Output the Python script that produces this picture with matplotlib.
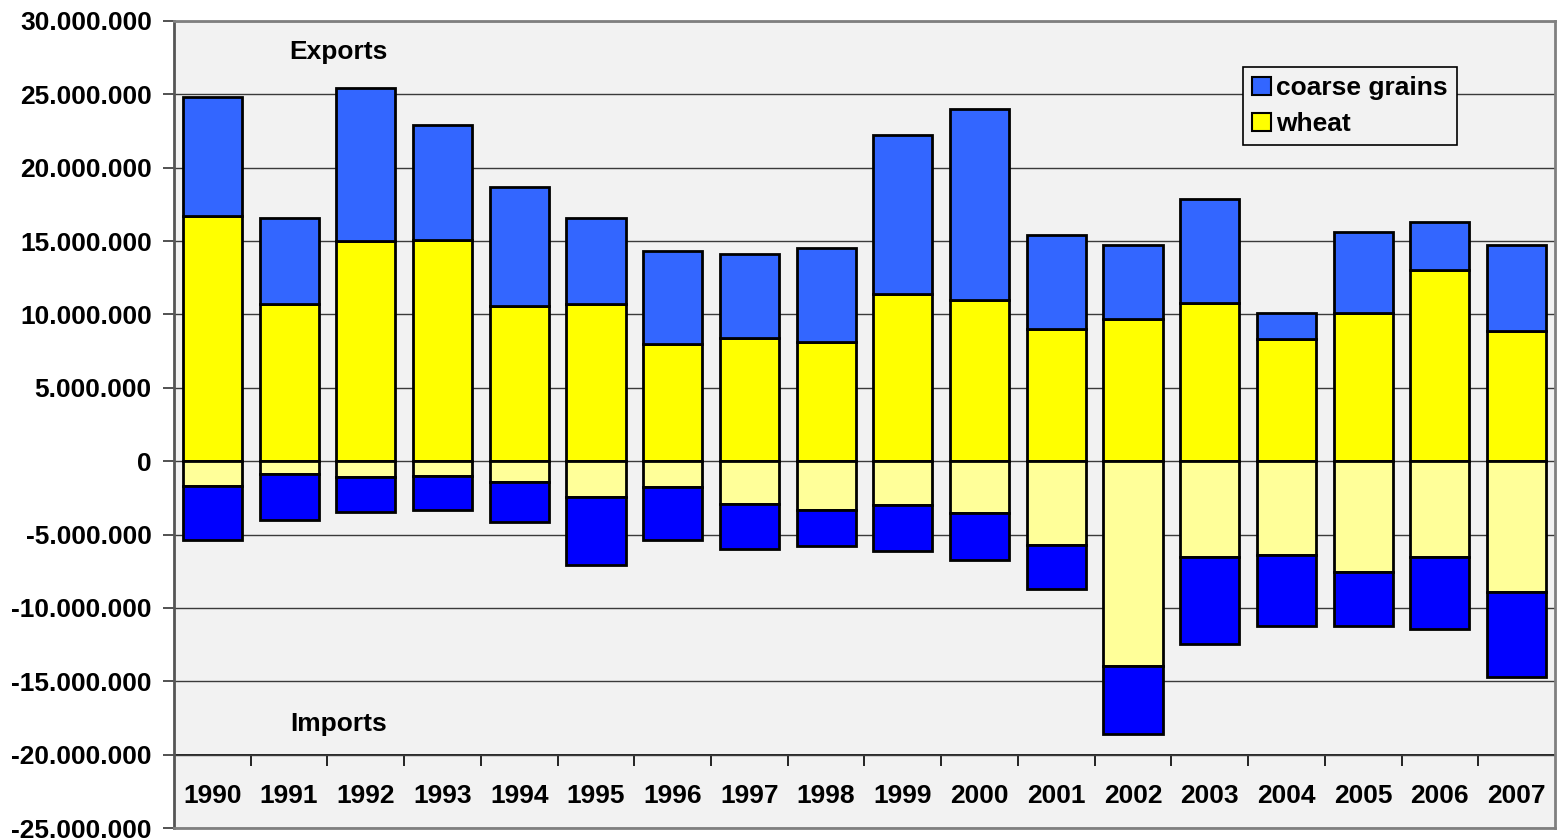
import numpy as np
import matplotlib
matplotlib.use("Agg")
import matplotlib.pyplot as plt
from matplotlib.patches import Patch
from matplotlib.ticker import FuncFormatter, MultipleLocator

plt.rcParams['font.family'] = ['Liberation Sans', 'DejaVu Sans']
plt.rcParams['font.weight'] = 'bold'

years = ['1990', '1991', '1992', '1993', '1994', '1995', '1996', '1997', '1998',
         '1999', '2000', '2001', '2002', '2003', '2004', '2005', '2006', '2007']

# Exports (tonnes)
export_wheat = [16.7e6, 10.7e6, 15.0e6, 15.1e6, 10.6e6, 10.7e6, 8.0e6, 8.4e6, 8.1e6,
                11.4e6, 11.0e6, 9.0e6, 9.7e6, 10.8e6, 8.3e6, 10.1e6, 13.0e6, 8.9e6]
export_coarse = [8.1e6, 5.9e6, 10.4e6, 7.8e6, 8.1e6, 5.9e6, 6.3e6, 5.7e6, 6.4e6,
                 10.8e6, 13.0e6, 6.4e6, 5.0e6, 7.1e6, 1.8e6, 5.5e6, 3.3e6, 5.8e6]
# Imports (tonnes, negative)
import_wheat = [-1.70e6, -0.90e6, -1.10e6, -1.00e6, -1.43e6, -2.45e6, -1.77e6, -2.93e6, -3.36e6,
                -2.98e6, -3.52e6, -5.73e6, -13.93e6, -6.52e6, -6.41e6, -7.52e6, -6.50e6, -8.89e6]
import_coarse = [-3.67e6, -3.10e6, -2.38e6, -2.35e6, -2.72e6, -4.65e6, -3.63e6, -3.07e6, -2.41e6,
                 -3.16e6, -3.23e6, -2.95e6, -4.67e6, -5.91e6, -4.79e6, -3.68e6, -4.95e6, -5.81e6]

series_labels = ['coarse grains', 'wheat']

C_EXP_COARSE = '#3366FF'
C_EXP_WHEAT = '#FFFF00'
C_IMP_WHEAT = '#FFFF99'
C_IMP_COARSE = '#0000FF'
BG = '#F2F2F2'
FS = 19

fig = plt.figure(figsize=(15.59, 8.39), dpi=100)
fig.patch.set_facecolor('white')
ax = fig.add_axes([174/1559, 1 - 828/839, (1555 - 174)/1559, (828 - 21)/839])
ax.set_facecolor(BG)

x = np.arange(len(years))
w = 0.77
ekw = dict(edgecolor='black', linewidth=2.0, zorder=3)
ax.bar(x, export_wheat, w, color=C_EXP_WHEAT, **ekw)
ax.bar(x, export_coarse, w, bottom=export_wheat, color=C_EXP_COARSE, **ekw)
ax.bar(x, import_wheat, w, color=C_IMP_WHEAT, **ekw)
ax.bar(x, import_coarse, w, bottom=import_wheat, color=C_IMP_COARSE, **ekw)

ax.set_xlim(-0.5, len(years) - 0.5)
ax.set_ylim(-25e6, 30e6)
ax.yaxis.set_major_locator(MultipleLocator(5e6))
ax.yaxis.set_major_formatter(FuncFormatter(lambda v, p: f"{int(round(v)):,}".replace(',', '.')))
ax.grid(axis='y', color='#3a3a3a', linewidth=1.0, zorder=1)
ax.set_axisbelow(True)
ax.tick_params(axis='y', direction='out', length=8, width=1.2, color='#333333',
               labelsize=FS, pad=8)
for lab in ax.get_yticklabels():
    lab.set_fontweight('bold')
ax.tick_params(axis='x', bottom=False, labelbottom=False)

for s in ['top', 'right', 'bottom']:
    ax.spines[s].set_color('#808080')
    ax.spines[s].set_linewidth(2)
ax.spines['left'].set_color('#555555')
ax.spines['left'].set_linewidth(2)

# category axis at -20.000.000
loc = (-20e6 - (-25e6)) / (30e6 - (-25e6))
sec = ax.secondary_xaxis(loc)
sec.set_xticks(x)
sec.set_xticklabels(years, fontsize=FS, fontweight='bold')
sec.set_xticks(np.arange(0.5, len(years) - 0.5, 1), minor=True)
sec.tick_params(axis='x', which='major', length=0, pad=21)
sec.tick_params(axis='x', which='minor', length=8, width=1.2, color='black', direction='out')
sec.spines['bottom'].set_color('black')
sec.spines['bottom'].set_linewidth(1.2)

ax.text(1.64, 27.9e6, 'Exports', fontsize=FS, fontweight='bold', ha='center', va='center')
ax.text(1.64, -17.9e6, 'Imports', fontsize=FS, fontweight='bold', ha='center', va='center')

handles = [Patch(facecolor=C_EXP_COARSE, edgecolor='black', linewidth=1.5),
           Patch(facecolor=C_EXP_WHEAT, edgecolor='black', linewidth=1.5)]
leg = fig.legend(handles, series_labels, loc='upper left',
                 bbox_to_anchor=(1243/1559, 1 - 67/839),
                 prop={'weight': 'bold', 'size': FS},
                 frameon=True, fancybox=False, edgecolor='black', facecolor=BG,
                 framealpha=1, handlelength=0.7, handleheight=0.7,
                 handletextpad=0.2, borderpad=0.35, labelspacing=0.45, borderaxespad=0)
leg.get_frame().set_linewidth(1.2)

fig.savefig('out.png', dpi=100)
